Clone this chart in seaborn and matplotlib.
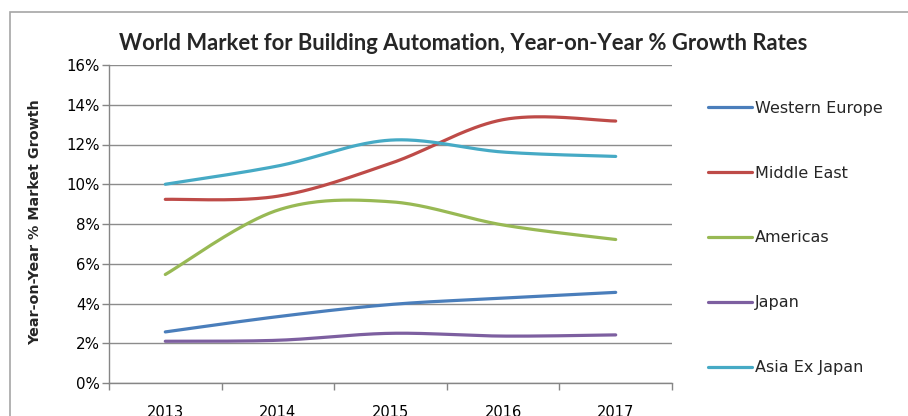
import numpy as np
import pandas as pd
import matplotlib
matplotlib.use("Agg")
import matplotlib.pyplot as plt
from matplotlib.patches import Rectangle
import seaborn as sns

# ---- data ----
years = ["2013", "2014", "2015", "2016", "2017"]
western_europe = [2.57, 3.34, 3.95, 4.27, 4.56]
middle_east = [9.24, 9.40, 11.05, 13.25, 13.18]
americas = [5.46, 8.70, 9.12, 7.95, 7.22]
japan = [2.10, 2.15, 2.50, 2.36, 2.42]
asia_ex_japan = [10.0, 10.92, 12.22, 11.62, 11.40]

series_names = ["Western Europe", "Middle East", "Americas", "Japan", "Asia Ex Japan"]
series_values = [western_europe, middle_east, americas, japan, asia_ex_japan]
colors = ["#4A7EBB", "#BE4B48", "#98B954", "#7D5FA0", "#46AAC5"]
y_ticks = [0, 2, 4, 6, 8, 10, 12, 14, 16]

title = "World Market for Building Automation, Year-on-Year % Growth Rates"
ylabel = "Year-on-Year % Market Growth"


def excel_smooth(ys, steps=40):
    """Render a smoothed-line path (Excel style Bezier) through the points."""
    n = len(ys)
    P = np.column_stack([np.arange(n, dtype=float), np.asarray(ys, float)])
    xs_out, ys_out = [], []
    for i in range(n - 1):
        p0 = P[i]
        p3 = P[i + 1]
        pm = P[i - 1] if i > 0 else P[i]
        pp = P[i + 2] if i + 2 < n else P[i + 1]
        c1 = p0 + (p3 - pm) / 6.0
        c2 = p3 - (pp - p0) / 6.0
        t = np.linspace(0, 1, steps, endpoint=(i == n - 2))[:, None]
        b = ((1 - t) ** 3) * p0 + 3 * ((1 - t) ** 2) * t * c1 + 3 * (1 - t) * t ** 2 * c2 + t ** 3 * p3
        xs_out.append(b[:, 0])
        ys_out.append(b[:, 1])
    return np.concatenate(xs_out), np.concatenate(ys_out)


frames = []
for name, vals in zip(series_names, series_values):
    sx, sy = excel_smooth(vals)
    frames.append(pd.DataFrame({"x": sx, "y": sy, "series": name, "order": np.arange(len(sx))}))
df = pd.concat(frames, ignore_index=True)

sns.set_theme(style="white")
plt.rcParams["font.family"] = ["DejaVu Sans"]

fig = plt.figure(figsize=(9.08, 4.16), dpi=100)
ax = fig.add_axes([109 / 908, 1 - 383 / 416, (672 - 109) / 908, (383 - 65) / 416])

sns.lineplot(data=df, x="x", y="y", hue="series", hue_order=series_names,
             palette=dict(zip(series_names, colors)), sort=False, estimator=None,
             units="series", linewidth=2.3, ax=ax, legend=True)

ax.set_xlim(-0.5, len(years) - 0.5)
ax.set_ylim(0, 16)
ax.set_yticks(y_ticks)
ax.set_yticklabels([f"{v}%" for v in y_ticks])
ax.set_xticks(np.arange(len(years) + 1) - 0.5)
ax.set_xticklabels([""] * (len(years) + 1))
ax.set_xticks(np.arange(len(years)), minor=True)
ax.set_xticklabels(years, minor=True)
ax.tick_params(axis="x", which="major", direction="out", length=5, width=1, color="#868686", bottom=True)
ax.tick_params(axis="x", which="minor", length=0, pad=16, labelsize=10.5, labelcolor="#000000")
ax.tick_params(axis="y", direction="out", length=5, width=1, color="#868686", left=True,
               labelsize=10.8, labelcolor="#000000", pad=1.5)

ax.grid(axis="y", color="#8C8C8C", linewidth=1)
ax.set_axisbelow(True)
for s in ["top", "right"]:
    ax.spines[s].set_visible(False)
for s in ["left", "bottom"]:
    ax.spines[s].set_color("#868686")
    ax.spines[s].set_linewidth(1)
ax.set_xlabel("")
ax.set_ylabel(ylabel, fontsize=10.3, fontweight="bold", labelpad=8)
ax.yaxis.set_label_coords(-0.118, 0.506)

handles, labels = ax.get_legend_handles_labels()
leg = ax.legend(handles, labels, loc="center left", bbox_to_anchor=(708 / 908, 1 - 238 / 416),
                bbox_transform=fig.transFigure, frameon=False, fontsize=11.5,
                handlelength=2.75, handletextpad=0.2, labelspacing=3.13, borderpad=0, borderaxespad=0)
for h in leg.get_lines():
    h.set_linewidth(2.3)

fig.text(463 / 908, 1 - 44 / 416, title, ha="center", va="center", fontsize=15.8,
         fontweight="bold", family=["Lato", "DejaVu Sans"])

fig.patches.append(Rectangle((10 / 908, -0.2), 1.0, 1.2 - 12 / 416, transform=fig.transFigure,
                             fill=False, edgecolor="#A6A6A6", linewidth=1.2, figure=fig))

fig.savefig("out.png", dpi=100)
